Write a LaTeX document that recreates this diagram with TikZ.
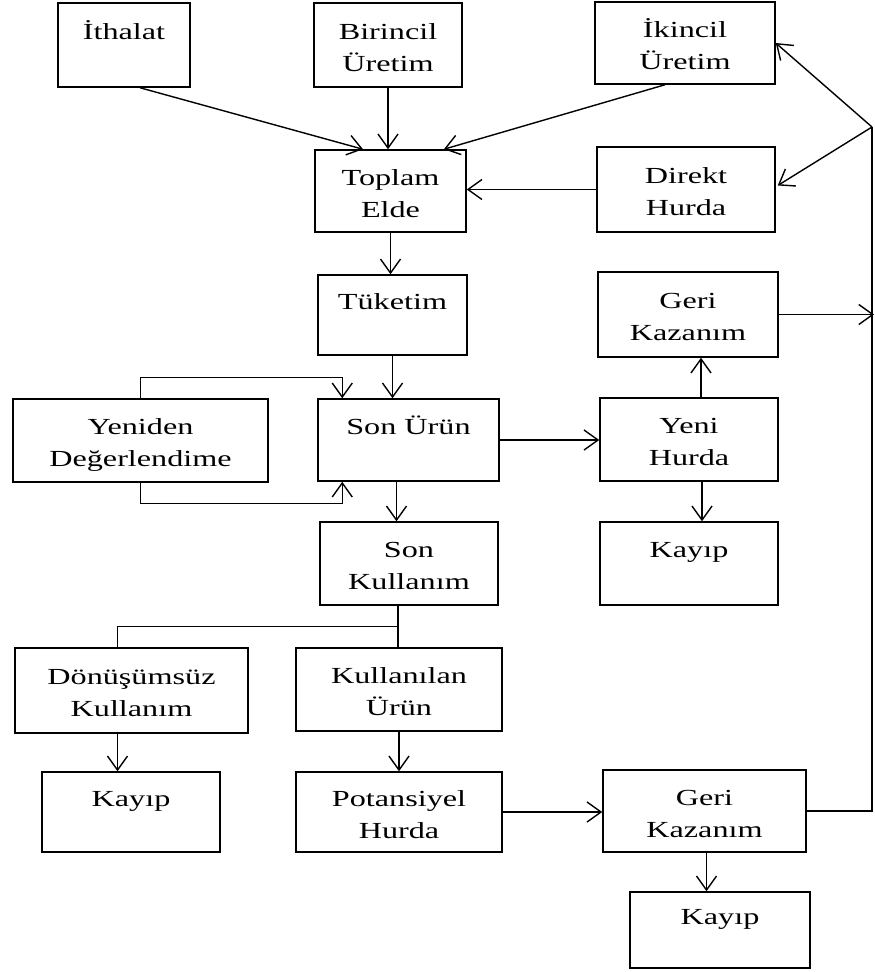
\documentclass[tikz,border=0pt]{standalone}
\usepackage{fontspec}
\setmainfont{Liberation Serif}[FakeStretch=1.4]
\usetikzlibrary{arrows.meta,calc}
\newcommand\st{\rule[-6pt]{0pt}{32pt}}
\begin{document}
\begin{tikzpicture}[x=1pt,y=-1pt,
  box/.style={draw,line width=1.5pt,inner sep=0pt,align=center,
    font=\fontsize{23}{32}\selectfont},
  ln/.style={line width=1.4pt},
  arr/.style={line width=1.4pt,-{Straight Barb[length=14pt,width=20pt,line width=1.4pt]}}]
\useasboundingbox (0,0) rectangle (875,972);
\fill[white] (0,0) rectangle (875,972);
% boxes
\node[box,minimum width=132pt,minimum height=84pt] (ith) at (124,45) {\st İthalat\\\st};
\node[box,minimum width=148pt,minimum height=84pt] (bir) at (388,45) {\st Birincil\\\st Üretim};
\node[box,minimum width=180pt,minimum height=82pt] (iki) at (685,43) {\st İkincil\\\st Üretim};
\node[box,minimum width=151pt,minimum height=82pt] (top) at (390.5,191) {\st Toplam\\\st Elde};
\node[box,minimum width=178pt,minimum height=85pt] (dir) at (686,189.5) {\st Direkt\\\st Hurda};
\node[box,minimum width=149pt,minimum height=80pt] (tuk) at (392.5,315) {\st Tüketim\\\st};
\node[box,minimum width=180pt,minimum height=85pt] (gk1) at (688,314.5) {\st Geri\\\st Kazanım};
\node[box,minimum width=255pt,minimum height=83pt] (yen) at (140.5,440.5) {\st Yeniden\\\st Değerlendime};
\node[box,minimum width=181pt,minimum height=82pt] (son) at (408.5,440) {\st Son Ürün\\\st};
\node[box,minimum width=178pt,minimum height=83pt] (yh) at (689,439.5) {\st Yeni\\\st Hurda};
\node[box,minimum width=178pt,minimum height=83pt] (ky1) at (689,563.5) {\st Kayıp\\\st};
\node[box,minimum width=178pt,minimum height=83pt] (sk) at (409,563.5) {\st Son\\\st Kullanım};
\node[box,minimum width=233pt,minimum height=85pt] (don) at (131.5,690.5) {\st Dönüşümsüz\\\st Kullanım};
\node[box,minimum width=206pt,minimum height=83pt] (ku) at (399,689.5) {\st Kullanılan\\\st Ürün};
\node[box,minimum width=178pt,minimum height=80pt] (ky2) at (131,812) {\st Kayıp\\\st};
\node[box,minimum width=206pt,minimum height=80pt] (pot) at (399,812) {\st Potansiyel\\\st Hurda};
\node[box,minimum width=203pt,minimum height=82pt] (gk2) at (704.5,811) {\st Geri\\\st Kazanım};
\node[box,minimum width=180pt,minimum height=76pt] (ky3) at (720,930) {\st Kayıp\\\st};
% connectors
\draw[arr] ($(ith.south west)!0.62!(ith.south east)$) -- ($(top.north west)!0.32!(top.north east)$);
\draw[arr] (bir.south) -- (bir.south |- top.north);
\draw[arr] ($(iki.south west)!0.39!(iki.south east)$) -- ($(top.north west)!0.85!(top.north east)$);
\draw[arr] (dir.west) -- (dir.west -| top.east);
\draw[arr] (top.south) -- (top.south |- tuk.north);
\draw[arr] (tuk.south) -- (tuk.south |- son.north);
\draw[arr] (yen.north) -- ++(0,-21) -| ($(son.north west)+(25,0)$);
\draw[arr] (yen.south) -- ++(0,21) -| ($(son.south west)+(25,0)$);
\draw[arr] (son.east) -- (son.east -| yh.west);
\coordinate (a1) at ($(yh.north)+(12,0)$);
\draw[arr] (a1) -- (a1 |- gk1.south);
\coordinate (a2) at ($(yh.south)+(13,0)$);
\draw[arr] (a2) -- (a2 |- ky1.north);
\coordinate (a3) at ($(son.south)+(-12,0)$);
\draw[arr] (a3) -- (a3 |- sk.north);
\coordinate (br) at ($(sk.south)+(-11,21)$);
\draw[ln] (br |- sk.south) -- (br) -- (br |- ku.north);
\coordinate (a4) at ($(don.north)+(-14,0)$);
\draw[ln] (br) -| (a4);
\draw[arr] (a4 |- don.south) -- (a4 |- ky2.north);
\draw[arr] (ku.south) -- (ku.south |- pot.north);
\draw[arr] (pot.east) -- (pot.east -| gk2.west);
\coordinate (a5) at ($(gk2.south)+(2,0)$);
\draw[arr] (a5) -- (a5 |- ky3.north);
% right-hand return line
\coordinate (jn) at (872,127);
\coordinate (out1) at (874,314.5);
\draw[arr] (gk1.east) -- (out1);
\draw[ln] (gk2.east) -- (gk2.east -| jn) -- (jn);
\draw[arr] (jn) -- (iki.east);
\draw[arr] (jn) -- ($(dir.east)+(2,-4)$);
\end{tikzpicture}
\end{document}
